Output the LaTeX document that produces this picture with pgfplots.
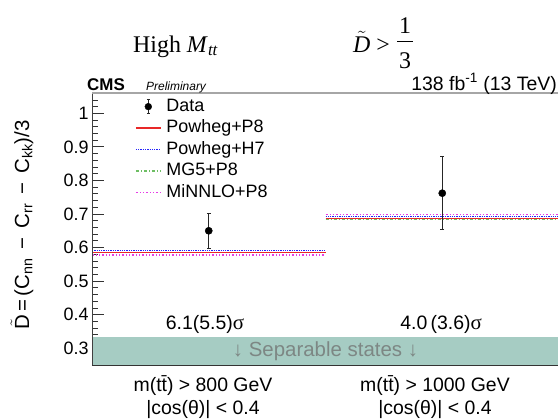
\documentclass[border=0pt]{standalone}
\usepackage{pgfplots}
\pgfplotsset{compat=1.18}
\usepackage{fontspec}
\setmainfont{Liberation Sans}
\newfontfamily\serif{Liberation Serif}

\definecolor{bandteal}{RGB}{166,204,195}
\definecolor{cPowP}{RGB}{232,40,40}
\definecolor{cPowH}{RGB}{35,35,250}
\definecolor{cMG}{RGB}{110,190,100}
\definecolor{cMiN}{RGB}{230,60,230}
\definecolor{sepgray}{RGB}{125,135,132}

\newcommand\lbl{\fontsize{19.5}{21}\selectfont}
\newcommand\leg{\fontsize{18}{20}\selectfont}

\begin{document}
\begin{tikzpicture}
\begin{axis}[
  at={(92bp,-365bp)}, anchor=south west, scale only axis,
  width=467bp, height=271.8bp,
  xmin=0, xmax=2, ymin=0.25, ymax=1.06,
  axis line style={draw=none},
  xtick=\empty,
  ytick={0.3,0.4,0.5,0.6,0.7,0.8,0.9,1},
  minor ytick={0.32,0.34,0.36,0.38,0.42,0.44,0.46,0.48,0.52,0.54,0.56,0.58,0.62,0.64,0.66,0.68,0.72,0.74,0.76,0.78,0.82,0.84,0.86,0.88,0.92,0.94,0.96,0.98,1.02,1.04},
  ytick pos=left, tick align=inside,
  major tick length=12bp, minor tick length=6bp,
  tick style={black!80, line width=0.8bp},
  yticklabel style={font=\fontsize{18}{20}\selectfont,
    /pgf/number format/fixed, /pgf/number format/precision=1,
    /pgf/number format/assume math mode=true},
  clip=false,
  unbounded coords=jump,
  legend image code/.code={\draw[#1] (0bp,0bp) -- (25bp,0bp);},
  legend style={at={(0.092,0.99)}, anchor=north west, draw=none, fill=none,
    font=\leg, inner sep=0pt, row sep=0.5bp, column sep=3bp,
    nodes={text height=13bp, text depth=4bp, inner sep=2bp}},
  legend cell align=left,
]
% separable region below D = 1/3
\addplot[fill=bandteal, draw=none, forget plot]
  coordinates {(0,0.25) (2,0.25) (2,0.33333) (0,0.33333)} -- cycle;

% legend entries
\addlegendimage{legend image code/.code={
  \draw[black!85, line width=1.2bp] (12.5bp,-7bp) -- (12.5bp,7bp);
  \draw[black!85, line width=1bp] (11bp,-7bp) -- (14bp,-7bp) (11bp,7bp) -- (14bp,7bp);
  \fill[black] (12.5bp,0bp) circle (3.4bp);}}
\addlegendentry{Data}
\addlegendimage{cPowP, line width=1.3bp}
\addlegendentry{Powheg+P8}
\addlegendimage{cPowH, line width=1.3bp, densely dotted}
\addlegendentry{Powheg+H7}
\addlegendimage{cMG, line width=1.3bp, dash pattern=on 3bp off 2bp on 1bp off 2bp}
\addlegendentry{MG5+P8}
\addlegendimage{cMiN, line width=1.3bp, dash pattern=on 2bp off 2bp on 1bp off 2bp on 1bp off 2bp}
\addlegendentry{MiNNLO+P8}

% predictions per bin
\addplot[cMG, line width=1.3bp, dash pattern=on 3bp off 2bp on 1bp off 2bp, forget plot]
  coordinates {(0,0.586) (1,0.586) (1,nan) (1,0.683) (2,0.683)};
\addplot[cPowP, line width=1.3bp, forget plot]
  coordinates {(0,0.586) (1,0.586) (1,nan) (1,0.686) (2,0.686)};
\addplot[cPowH, line width=1.3bp, densely dotted, forget plot]
  coordinates {(0,0.592) (1,0.592) (1,nan) (1,0.692) (2,0.692)};
\addplot[cMiN, line width=1.3bp, dash pattern=on 2bp off 2bp on 1bp off 2bp on 1bp off 2bp, forget plot]
  coordinates {(0,0.578) (1,0.578) (1,nan) (1,0.698) (2,0.698)};

% measured values
\addplot[black, only marks, mark=*, mark size=3.6bp, forget plot,
  error bars/.cd, y dir=both, y explicit,
  error bar style={black!85, line width=1.3bp},
  error mark options={rotate=90, mark size=1.8bp, line width=1bp, black!85}]
  coordinates {
    (0.5,0.650) += (0,0.053) -= (0,0.054)
    (1.5,0.762) += (0,0.110) -= (0,0.108)
  };

% significances and region label
\node[font=\lbl, anchor=base] at (axis cs:0.484,0.356) {6.1(5.5){\serif\fontsize{21}{22}\selectfont σ}};
\node[font=\lbl, anchor=base] at (axis cs:1.495,0.356) {4.0\,(3.6){\serif\fontsize{21}{22}\selectfont σ}};
\node[font=\fontsize{20.5}{22}\selectfont, text=sepgray] at (axis cs:1.0,0.291) {↓ Separable states ↓};

% frame
\draw[black!75, line width=1bp] (rel axis cs:0,0) -- (rel axis cs:0,1);
\draw[black!35, line width=1.6bp] (rel axis cs:0,1) -- (rel axis cs:1,1);
\draw[black!80, line width=1bp] (rel axis cs:0,0) -- (rel axis cs:1,0);
\end{axis}

% y title
\node[rotate=90, font=\fontsize{20.5}{22}\selectfont] at (22bp,-225bp)
  {$\tilde{\mbox{D}}$\,=\,(C\textsubscript{nn}\hspace{9bp}−\hspace{9bp}C\textsubscript{rr}\hspace{9bp}−\hspace{9bp}C\textsubscript{kk})/3};

% bin descriptions
\node[font=\lbl, anchor=base] at (203bp,-391bp) {m(t\={t}) > 800 GeV};
\node[font=\lbl, anchor=base] at (203bp,-414bp) {|cos(θ)| < 0.4};
\node[font=\lbl, anchor=base] at (435bp,-391bp) {m(t\={t}) > 1000 GeV};
\node[font=\lbl, anchor=base] at (435bp,-414bp) {|cos(θ)| < 0.4};

% header
\node[anchor=base west, inner sep=0pt, font=\fontsize{17}{18}\selectfont\bfseries] at (87bp,-90bp) {CMS};
\node[anchor=base west, inner sep=0pt, font=\fontsize{12}{13}\selectfont\itshape] at (146bp,-90bp) {Preliminary};
\node[anchor=base east, inner sep=0pt, font=\fontsize{19.5}{21}\selectfont] at (557bp,-90bp) {138 fb\textsuperscript{-1} (13 TeV)};

% title
\node[anchor=base west, inner sep=0pt, font=\fontsize{24}{26}\serif] at (133bp,-52bp)
  {High \textit{M}\textsubscript{\textit{tt}}};
\node[anchor=base west, inner sep=0pt, font=\fontsize{24}{26}\serif] at (353bp,-52bp)
  {$\tilde{\mbox{\itshape D}}$ >};
\node[anchor=base, inner sep=0pt, font=\fontsize{24}{26}\serif] at (405bp,-33bp) {1};
\node[anchor=base, inner sep=0pt, font=\fontsize{24}{26}\serif] at (405bp,-68bp) {3};
\draw[line width=1bp] (397bp,-41bp) -- (413bp,-41bp);

\pgfresetboundingbox
\path (0bp,0bp) rectangle (558bp,-419bp);
\end{tikzpicture}
\end{document}
